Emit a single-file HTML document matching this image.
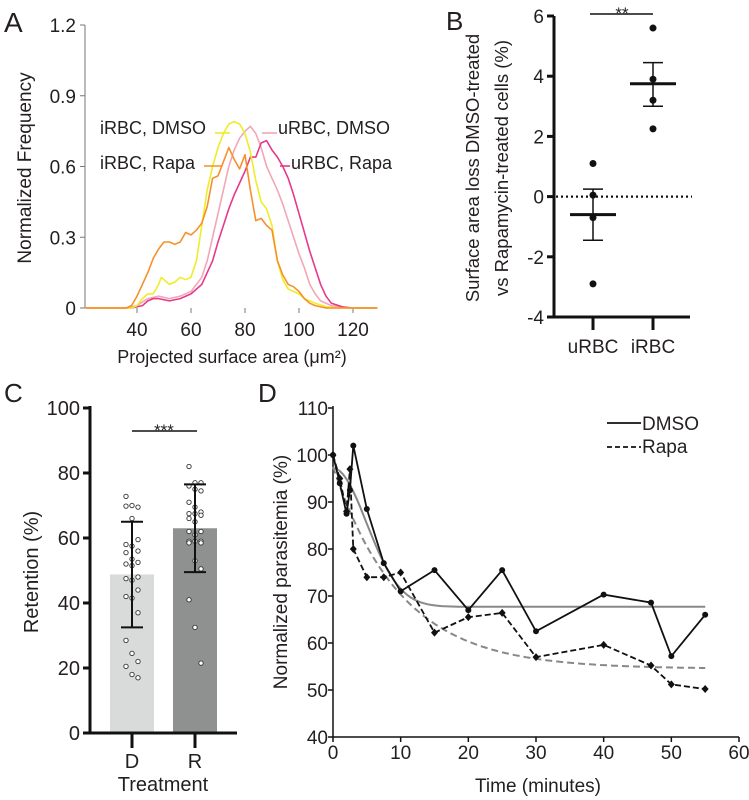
<!DOCTYPE html>
<html><head><meta charset="utf-8">
<style>
html,body{margin:0;padding:0;background:#fff;}
svg{display:block;font-family:"Liberation Sans",Arial,sans-serif;}
</style></head>
<body>
<svg id="fig" width="749" height="800" viewBox="0 0 749 800" xmlns="http://www.w3.org/2000/svg">
<text x="4" y="32" font-size="28" fill="#231f20">A</text>
<text x="446" y="30" font-size="26" fill="#231f20">B</text>
<text x="4" y="402" font-size="26" fill="#231f20">C</text>
<text x="258" y="402" font-size="26" fill="#231f20">D</text>
<g id="pa"></g>
<g id="pb"></g>
<g id="pc"></g>
<g id="pd"></g>
</svg>
<script>
// ---------- Panel A data ----------
const aTicksY = [0, 0.3, 0.6, 0.9, 1.2];
const aTickLabelsY = ["0", "0.3", "0.6", "0.9", "1.2"];
const aTicksX = [40, 60, 80, 100, 120];
const aOrangeX = [21,36,38,40,42,44,46,48,50,52,54,56,58,60,62,64,66,68,70,72,74,76,78,80,82,84,86,88,90,92,94,96,98,100,102,104,106,110,129];
const aOrangeY = [0,0,0.01,0.05,0.1,0.15,0.21,0.25,0.28,0.28,0.27,0.28,0.32,0.31,0.33,0.36,0.43,0.55,0.56,0.62,0.68,0.63,0.59,0.65,0.5,0.37,0.38,0.35,0.33,0.2,0.14,0.1,0.09,0.07,0.04,0.02,0.01,0,0];
const aYellowX = [21,38,40,42,44,46,48,49,50,52,54,56,58,60,62,64,66,68,70,72,74,76,78,80,82,84,86,88,90,92,94,96,98,100,102,104,106,110,115,129];
const aYellowY = [0,0,0.01,0.04,0.06,0.06,0.1,0.13,0.12,0.1,0.11,0.13,0.12,0.13,0.2,0.35,0.5,0.6,0.68,0.74,0.78,0.79,0.78,0.74,0.66,0.54,0.45,0.42,0.35,0.2,0.12,0.08,0.07,0.06,0.04,0.03,0.02,0.005,0,0];
const aPinkX = [21,36,40,44,48,52,56,60,64,66,68,70,72,74,76,78,80,82,84,86,88,90,92,94,96,98,100,102,104,106,108,112,118,129];
const aPinkY = [0,0,0.01,0.04,0.05,0.04,0.05,0.07,0.13,0.2,0.3,0.4,0.5,0.6,0.67,0.72,0.75,0.77,0.74,0.68,0.6,0.55,0.5,0.44,0.37,0.3,0.23,0.17,0.1,0.06,0.03,0.01,0,0];
const aMagX = [21,38,42,44,46,48,52,56,60,64,66,68,70,72,74,76,78,80,82,84,86,88,90,92,94,96,98,100,102,104,106,108,110,112,116,120,129];
const aMagY = [0,0,0.01,0.03,0.04,0.04,0.03,0.04,0.06,0.1,0.15,0.2,0.28,0.35,0.42,0.48,0.53,0.58,0.64,0.64,0.7,0.71,0.67,0.64,0.6,0.55,0.48,0.4,0.32,0.24,0.17,0.1,0.05,0.02,0.005,0,0];

// ---------- Panel B data ----------
const bCategories = ["uRBC", "iRBC"];
const bTicksY = [-4, -2, 0, 2, 4, 6];
const bPointsU = [1.1, 0.05, -0.7, -2.9];
const bPointsI = [5.6, 3.9, 3.2, 2.25];
const bMeans = [-0.6, 3.75];
const bErrLow = [-1.45, 3.0];
const bErrHigh = [0.25, 4.45];

// ---------- Panel C data ----------
const cCategories = ["D", "R"];
const cTicksY = [0, 20, 40, 60, 80, 100];
const cMeans = [48.8, 63];
const cSdLow = [32.5, 49.5];
const cSdHigh = [65, 76.5];
const cPointsD = [72.8,70,69.5,69.8,66,59.5,58,57.5,56,55.5,53.5,52.5,52,51.5,48,47.5,47,44,42,41.5,37,28.5,24.5,22,20.5,18,17];
const cPointsR = [82,77,77,76,75,74.5,71,69.5,68,67.5,67.5,67,66,65,62,62,61,59,59,59,58.5,58.5,53,50.5,41,32.5,21.5];

// ---------- Panel D data ----------
const dTicksX = [0, 10, 20, 30, 40, 50, 60];
const dTicksY = [40, 50, 60, 70, 80, 90, 100, 110];
const dDmsoT = [0,1,2,2.5,3,5,7.5,10,15,20,25,30,40,47,50,55];
const dDmsoV = [100,94,87.5,92.5,102,88.5,77,71,75.5,67,75.5,62.5,70.3,68.6,57.2,66];
const dRapaT = [0,1,2,2.5,3,5,7.5,10,15,20,25,30,40,47,50,55];
const dRapaV = [100,95,88,97,80,74,74,75,62.2,65.5,66.4,57,59.6,55.2,51.2,50.2];
const dFitDmso = {plateau: 67.7, span: 29.5, k: 7};
const dFitRapa = {plateau: 54.5, span: 43, k: 10};

const NS = "http://www.w3.org/2000/svg";
function mk(parent, tag, attrs) {
  const e = document.createElementNS(NS, tag);
  for (const k in attrs) e.setAttribute(k, attrs[k]);
  parent.appendChild(e);
  return e;
}
function txt(parent, x, y, s, size, anchor, extra) {
  const t = mk(parent, "text", Object.assign({x: x, y: y, "font-size": size, "text-anchor": anchor || "start", fill: "#231f20"}, extra || {}));
  t.textContent = s;
  return t;
}

// ===== Panel A =====
(function(){
  const g = document.getElementById("pa");
  const x = v => 137 + (v - 40) * 2.7;
  const y = v => 308 - v * (283 / 1.2);
  const ax = mk(g, "line", {x1: 85, y1: 25, x2: 85, y2: 308, stroke: "#777", "stroke-width": 1});
  
  
  aTicksY.forEach((v, i) => {
    const tk = mk(g, "line", {x1: 80, x2: 85, y1: y(v), y2: y(v), stroke: "#777"});
    
    
    const t = txt(g, 76, y(v) + 7, aTickLabelsY[i], 19, "end");
    
    
  });
  aTicksX.forEach(v => {
    const tk = mk(g, "line", {x1: x(v), x2: x(v), y1: 308, y2: 313, stroke: "#777"});
    
    
    const t = txt(g, x(v), 336, String(v), 19, "middle");
    
    
  });
  const yt = txt(g, 0, 0, "Normalized Frequency", 19, "middle", {transform: "translate(31,168) rotate(-90)"});
  
  
  const xt = txt(g, 232, 363, "Projected surface area (\u03bcm\u00b2)", 18, "middle");
  
  
  const series = [
    [aPinkX, aPinkY, "#f2a7b6", "curve-urbc-dmso"],
    [aMagX, aMagY, "#e8388c", "curve-urbc-rapa"],
    [aYellowX, aYellowY, "#eded2a", "curve-irbc-dmso"],
    [aOrangeX, aOrangeY, "#f7902a", "curve-irbc-rapa"]
  ];
  series.forEach(s => {
    const d = s[0].map((v, i) => (i ? "L" : "M") + x(v).toFixed(1) + "," + y(s[1][i]).toFixed(1)).join("");
    const p = mk(g, "path", {d: d, fill: "none", stroke: s[2], "stroke-width": 1.6, "stroke-linejoin": "round"});
    
    
  });
  const labels = [
    ["iRBC, DMSO", 100, 134, 215, 230, 133, "#eded2a"],
    ["uRBC, DMSO", 278, 134, 262, 277, 133, "#f2a7b6"],
    ["iRBC, Rapa", 100, 169, 204, 222, 166, "#f7902a"],
    ["uRBC, Rapa", 291, 169, 280, 290, 166, "#e8388c"]
  ];
  labels.forEach(l => {
    const t = txt(g, l[1], l[2], l[0], 18, "start");
    
    
    const ln = mk(g, "line", {x1: l[3], x2: l[4], y1: l[5], y2: l[5], stroke: l[6], "stroke-width": 1.6});
    
    
  });
})();

// ===== Panel B =====
(function(){
  const g = document.getElementById("pb");
  const y = v => 196.6 - v * 30.1;
  const cx = [593, 653];
  const ax = mk(g, "path", {d: "M554,16V317H690", fill: "none", stroke: "#111", "stroke-width": 3});
  
  
  bTicksY.forEach(v => {
    const tk = mk(g, "line", {x1: 547, x2: 554, y1: y(v), y2: y(v), stroke: "#111", "stroke-width": 3});
    
    
    const t = txt(g, 544, y(v) + 7, String(v), 19, "end");
    
    
  });
  bCategories.forEach((c, i) => {
    const tk = mk(g, "line", {x1: cx[i], x2: cx[i], y1: 317, y2: 330, stroke: "#111", "stroke-width": 3});
    
    
    const t = txt(g, cx[i], 353, c, 19, "middle");
    
    
  });
  const zl = mk(g, "line", {x1: 556, x2: 692, y1: y(0), y2: y(0), stroke: "#111", "stroke-width": 2.2, "stroke-dasharray": "2,3"});
  
  
  const t1 = txt(g, 0, 0, "Surface area loss DMSO-treated", 18.5, "middle", {transform: "translate(479,168) rotate(-90)"});
  
  
  const t2 = txt(g, 0, 0, "vs Rapamycin-treated cells (%)", 18.5, "middle", {transform: "translate(508,168) rotate(-90)"});
  
  
  const sb = mk(g, "line", {x1: 590, x2: 653, y1: 14, y2: 14, stroke: "#111", "stroke-width": 1.5});
  
  
  const st = txt(g, 622, 19, "**", 17, "middle");
  
  
  [bPointsU, bPointsI].forEach((pts, i) => {
    pts.forEach(v => {
      const c = mk(g, "circle", {cx: cx[i], cy: y(v), r: 3.5, fill: "#111"});
      
      
    });
    const m = mk(g, "line", {x1: cx[i] - 23, x2: cx[i] + 23, y1: y(bMeans[i]), y2: y(bMeans[i]), stroke: "#111", "stroke-width": 3});
    
    
    const e = mk(g, "path", {d: "M" + (cx[i] - 10) + "," + y(bErrHigh[i]) + "H" + (cx[i] + 10) + "M" + cx[i] + "," + y(bErrHigh[i]) + "V" + y(bErrLow[i]) + "M" + (cx[i] - 10) + "," + y(bErrLow[i]) + "H" + (cx[i] + 10), fill: "none", stroke: "#111", "stroke-width": 1.5});
    
    
  });
})();

// ===== Panel C =====
(function(){
  const g = document.getElementById("pc");
  const y = v => 733 - v * 3.25;
  const cx = [132, 195];
  const colors = ["#d9dada", "#8f9191"];
  const pts = [cPointsD, cPointsR];
  cCategories.forEach((c, i) => {
    const b = mk(g, "rect", {x: cx[i] - 22, y: y(cMeans[i]), width: 44, height: 733 - y(cMeans[i]), fill: colors[i]});
    
    
  });
  const ax = mk(g, "path", {d: "M90,406V733H237", fill: "none", stroke: "#111", "stroke-width": 3});
  
  
  cTicksY.forEach(v => {
    const tk = mk(g, "line", {x1: 83, x2: 90, y1: y(v), y2: y(v), stroke: "#111", "stroke-width": 3});
    
    
    const t = txt(g, 80, y(v) + 7, String(v), 20, "end");
    
    
  });
  cCategories.forEach((c, i) => {
    const tk = mk(g, "line", {x1: cx[i], x2: cx[i], y1: 733, y2: 748, stroke: "#111", "stroke-width": 3});
    
    
    const t = txt(g, cx[i], 768, c, 20, "middle");
    
    
    pts[i].forEach((v, j) => {
      const off = ((j % 3) - 1) * 6;
      const p = mk(g, "circle", {cx: cx[i] + off, cy: y(v), r: 2.2, fill: "#fff", stroke: "#333", "stroke-width": 0.9});
      
      
    });
    const e = mk(g, "path", {d: "M" + (cx[i] - 11) + "," + y(cSdHigh[i]) + "H" + (cx[i] + 11) + "M" + cx[i] + "," + y(cSdHigh[i]) + "V" + y(cSdLow[i]) + "M" + (cx[i] - 11) + "," + y(cSdLow[i]) + "H" + (cx[i] + 11), fill: "none", stroke: "#111", "stroke-width": 2});
    
    
  });
  const xt = txt(g, 163, 791, "Treatment", 20, "middle");
  
  
  const yt = txt(g, 0, 0, "Retention (%)", 20, "middle", {transform: "translate(38,572) rotate(-90)"});
  
  
  const sb = mk(g, "line", {x1: 132, x2: 197, y1: 431, y2: 431, stroke: "#111", "stroke-width": 1.5});
  
  
  const st = txt(g, 164, 436, "***", 17, "middle");
  
  
})();

// ===== Panel D =====
(function(){
  const g = document.getElementById("pd");
  const x = v => 333 + v * (406 / 60);
  const y = v => 737 - (v - 40) * 4.7;
  const ax = mk(g, "path", {d: "M333,406V737H739", fill: "none", stroke: "#111", "stroke-width": 1.5});
  
  
  dTicksY.forEach(v => {
    const tk = mk(g, "line", {x1: 328, x2: 333, y1: y(v), y2: y(v), stroke: "#111", "stroke-width": 1.5});
    
    
    const t = txt(g, 328, y(v) + 7, String(v), 19, "end");
    
    
  });
  dTicksX.forEach(v => {
    const tk = mk(g, "line", {x1: x(v), x2: x(v), y1: 737, y2: 742, stroke: "#111", "stroke-width": 1.5});
    
    
    const t = txt(g, x(v), 759, String(v), 19, "middle");
    
    
  });
  const xt = txt(g, 538, 792, "Time (minutes)", 19, "middle");
  
  
  const yt = txt(g, 0, 0, "Normalized parasitemia (%)", 19, "middle", {transform: "translate(287,572) rotate(-90)"});
  
  
  function fitPath(f, gauss) {
    let d = "";
    for (let t = 0; t <= 55; t += 0.5) {
      const v = f.plateau + f.span * (gauss ? Math.exp(-Math.pow(t / f.k, 2)) : Math.exp(-t / f.k));
      d += (t ? "L" : "M") + x(t).toFixed(1) + "," + y(v).toFixed(1);
    }
    return d;
  }
  const f1 = mk(g, "path", {d: fitPath(dFitDmso, true), fill: "none", stroke: "#888", "stroke-width": 2});
  
  
  const f2 = mk(g, "path", {d: fitPath(dFitRapa, false), fill: "none", stroke: "#888", "stroke-width": 2, "stroke-dasharray": "7,4"});
  
  
  const l1 = mk(g, "path", {d: dDmsoT.map((t, i) => (i ? "L" : "M") + x(t) + "," + y(dDmsoV[i])).join(""), fill: "none", stroke: "#111", "stroke-width": 1.8});
  
  
  const l2 = mk(g, "path", {d: dRapaT.map((t, i) => (i ? "L" : "M") + x(t) + "," + y(dRapaV[i])).join(""), fill: "none", stroke: "#111", "stroke-width": 1.8, "stroke-dasharray": "6,3"});
  
  
  dDmsoT.forEach((t, i) => {
    const c = mk(g, "circle", {cx: x(t), cy: y(dDmsoV[i]), r: 3, fill: "#111"});
    
    
  });
  dRapaT.forEach((t, i) => {
    const px = x(t), py = y(dRapaV[i]);
    const p = mk(g, "polygon", {points: px + "," + (py - 4) + " " + (px + 3.5) + "," + py + " " + px + "," + (py + 4) + " " + (px - 3.5) + "," + py, fill: "#111"});
    
    
  });
  const lg1 = mk(g, "line", {x1: 607, x2: 641, y1: 423, y2: 423, stroke: "#111", "stroke-width": 1.8});
  
  
  const lt1 = txt(g, 642, 430, "DMSO", 19, "start");
  
  
  const lg2 = mk(g, "line", {x1: 607, x2: 641, y1: 447, y2: 447, stroke: "#111", "stroke-width": 1.8, "stroke-dasharray": "5,3"});
  
  
  const lt2 = txt(g, 642, 453, "Rapa", 19, "start");
  
  
})();
</script>
</body></html>
